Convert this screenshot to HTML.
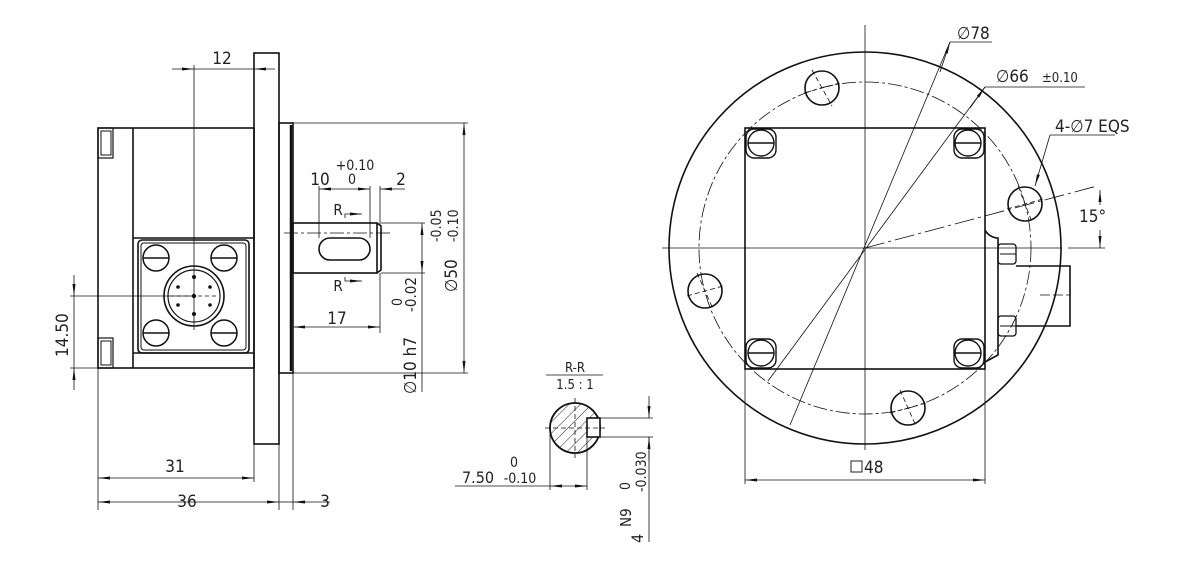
<!DOCTYPE html>
<html><head><meta charset="utf-8"><style>
html,body{margin:0;padding:0;background:#fff;}
svg{display:block;}
text{font-family:"DejaVu Sans Condensed","Liberation Sans Narrow","Liberation Sans",sans-serif;font-stretch:condensed;fill:#222;}
</style></head><body>
<svg width="1190" height="572" viewBox="0 0 1190 572" xmlns="http://www.w3.org/2000/svg">
<defs>
<marker id="a" markerWidth="12" markerHeight="6" refX="12" refY="3" orient="auto-start-reverse" markerUnits="userSpaceOnUse"><path d="M0,1.5 L12,3 L0,4.5 Z" fill="#111"/></marker>
<pattern id="h" width="8" height="8" patternUnits="userSpaceOnUse" patternTransform="rotate(45)"><line x1="0" y1="0" x2="0" y2="8" stroke="#222" stroke-width="1"/></pattern>
</defs>
<g fill="none" stroke="#111" stroke-width="1.6">
<rect x="254" y="53" width="25" height="391"/>
<rect x="98" y="128" width="156" height="240"/>
<line x1="133" y1="128" x2="133" y2="368"/>
<line x1="133" y1="238" x2="254" y2="238"/>
<line x1="133" y1="353" x2="254" y2="353"/>
<rect x="138" y="240" width="111" height="113" rx="4"/>
<rect x="141" y="243" width="105" height="107" rx="3" stroke-width="1"/>
<rect x="98" y="128" width="15" height="30" stroke-width="1.2"/>
<rect x="101" y="131" width="10" height="24" stroke-width="1"/>
<rect x="98" y="338" width="15" height="30" stroke-width="1.2"/>
<rect x="101" y="341" width="10" height="24" stroke-width="1"/>
<circle cx="194" cy="296" r="30"/>
<circle cx="194" cy="296" r="26" stroke-width="1.2"/>
<g stroke-width="1.5">
<circle cx="156" cy="258" r="13"/><line x1="143" y1="258" x2="169" y2="258"/>
<circle cx="224" cy="258" r="13"/><line x1="211" y1="258" x2="237" y2="258"/>
<circle cx="156" cy="333" r="13"/><line x1="143" y1="333" x2="169" y2="333"/>
<circle cx="224" cy="333" r="13"/><line x1="211" y1="333" x2="237" y2="333"/>
</g>
<g fill="#111" stroke="none">
<circle cx="194" cy="277" r="2"/><circle cx="194" cy="314" r="2"/><circle cx="194" cy="296" r="2.2"/>
<circle cx="178" cy="287" r="1.8"/><circle cx="210" cy="287" r="1.8"/><circle cx="178" cy="305" r="1.8"/><circle cx="210" cy="305" r="1.8"/>
</g>
<line x1="170" y1="296" x2="218" y2="296" stroke-width="0.8" stroke-dasharray="4,3"/>
<rect x="279" y="123" width="14" height="250"/>
<line x1="291" y1="125" x2="291" y2="371" stroke-width="2.5"/>
<rect x="293" y="223" width="84" height="50"/>
<path d="M377,223 L381,226 L381,270 L377,273" />
<rect x="319" y="238" width="51" height="22" rx="11"/>
</g>
<g fill="none" stroke="#111" stroke-width="0.8">
<line x1="194" y1="65" x2="194" y2="330"/>
<line x1="284" y1="233" x2="390" y2="233" stroke-dasharray="14,3,3,3"/>
<line x1="172" y1="69" x2="194" y2="69" marker-end="url(#a)"/><line x1="254" y1="69" x2="275" y2="69" marker-start="url(#a)"/><line x1="194" y1="69" x2="254" y2="69"/>
<line x1="319" y1="186" x2="319" y2="238"/><line x1="370" y1="186" x2="370" y2="238"/><line x1="380" y1="186" x2="380" y2="225"/>
<line x1="319" y1="189" x2="370" y2="189" marker-start="url(#a)" marker-end="url(#a)"/>
<line x1="380" y1="189" x2="405" y2="189" marker-start="url(#a)"/>
<polyline points="345,218 345,214 360,214"/><line x1="350" y1="214" x2="362" y2="214" marker-end="url(#a)"/>
<polyline points="345,277 345,281 360,281"/><line x1="350" y1="281" x2="362" y2="281" marker-end="url(#a)"/>
<line x1="380" y1="273" x2="380" y2="333"/>
<line x1="293" y1="327" x2="380" y2="327" marker-start="url(#a)" marker-end="url(#a)"/>
<line x1="381" y1="223" x2="425" y2="223"/><line x1="381" y1="273" x2="425" y2="273"/>
<line x1="422" y1="223" x2="422" y2="273" marker-start="url(#a)" marker-end="url(#a)"/>
<line x1="422" y1="273" x2="422" y2="392"/>
<line x1="293" y1="123" x2="468" y2="123"/><line x1="293" y1="373" x2="468" y2="373"/>
<line x1="464" y1="123" x2="464" y2="373" marker-start="url(#a)" marker-end="url(#a)"/>
<line x1="70" y1="296" x2="194" y2="296"/><line x1="70" y1="368" x2="98" y2="368"/>
<line x1="74" y1="275" x2="74" y2="296" marker-end="url(#a)"/><line x1="74" y1="368" x2="74" y2="390" marker-start="url(#a)"/><line x1="74" y1="296" x2="74" y2="368"/>
<line x1="98" y1="368" x2="98" y2="510"/><line x1="254" y1="444" x2="254" y2="482"/>
<line x1="279" y1="444" x2="279" y2="510"/><line x1="293" y1="373" x2="293" y2="510"/>
<line x1="98" y1="478" x2="254" y2="478" marker-start="url(#a)" marker-end="url(#a)"/>
<line x1="98" y1="502" x2="279" y2="502" marker-start="url(#a)" marker-end="url(#a)"/>
<line x1="279" y1="502" x2="293" y2="502"/>
<line x1="293" y1="502" x2="330" y2="502" marker-start="url(#a)"/>
</g>
<g font-size="17" text-anchor="middle">
<text x="222" y="64">12</text>
<text x="320" y="185">10</text>
<text x="355" y="170" font-size="14">+0.10</text>
<text x="352" y="184" font-size="14">0</text>
<text x="401" y="185">2</text>
<text x="338" y="215" font-size="15">R</text>
<text x="338" y="291" font-size="15">R</text>
<text x="337" y="324">17</text>
<text x="175" y="472">31</text>
<text x="187" y="507">36</text>
<text x="325" y="507">3</text>
</g>
<g font-size="17" text-anchor="start">
<text transform="translate(68,357) rotate(-90)">14.50</text>
<text transform="translate(416,394) rotate(-90)">∅10 h7</text>
<text transform="translate(416,312) rotate(-90)" font-size="15">-0.02</text>
<text transform="translate(402,306) rotate(-90)" font-size="14">0</text>
<text transform="translate(457,292) rotate(-90)">∅50</text>
<text transform="translate(441,242) rotate(-90)" font-size="14">-0.05</text>
<text transform="translate(458,242) rotate(-90)" font-size="14">-0.10</text>
</g>

<g fill="none" stroke="#111">
<circle cx="575" cy="428" r="25" fill="url(#h)" stroke-width="1.8"/>
<rect x="587" y="418" width="13" height="19" fill="#fff" stroke-width="1.6"/>
<g stroke-width="0.8">
<line x1="545" y1="428" x2="605" y2="428" stroke-dasharray="5,3"/>
<line x1="575" y1="398" x2="575" y2="458" stroke-dasharray="5,3"/>
<line x1="546" y1="375" x2="603" y2="375"/>
<line x1="550" y1="428" x2="550" y2="490"/><line x1="587" y1="437" x2="587" y2="490"/>
<line x1="455" y1="486" x2="550" y2="486"/>
<line x1="550" y1="486" x2="587" y2="486" marker-start="url(#a)" marker-end="url(#a)"/>
<line x1="600" y1="418" x2="653" y2="418"/><line x1="600" y1="437" x2="653" y2="437"/>
<line x1="649" y1="396" x2="649" y2="418" marker-end="url(#a)"/>
<line x1="649" y1="437" x2="649" y2="460" marker-start="url(#a)"/>
<line x1="649" y1="437" x2="649" y2="542"/>
</g>
</g>
<g font-size="16" text-anchor="middle">
<text x="575" y="372" font-size="13">R-R</text>
<text x="575" y="389" font-size="13">1.5 : 1</text>
<text x="478" y="483">7.50</text>
<text x="514" y="467" font-size="14">0</text>
<text x="520" y="483" font-size="14">-0.10</text>
</g>
<g font-size="16" text-anchor="start">
<text transform="translate(643,543) rotate(-90)">4</text>
<text transform="translate(631,527) rotate(-90)" font-size="15">N9</text>
<text transform="translate(630,490) rotate(-90)" font-size="14">0</text>
<text transform="translate(646,492) rotate(-90)" font-size="14">-0.030</text>
</g>

<g fill="none" stroke="#111" stroke-width="1.6">
<circle cx="865" cy="248" r="196"/>
<rect x="745" y="128" width="240" height="241"/>
<g stroke-width="1.4">
<rect x="746" y="129" width="30" height="29" rx="8"/><circle cx="761" cy="143" r="13"/><line x1="748" y1="143" x2="774" y2="143"/>
<rect x="954" y="129" width="30" height="29" rx="8"/><circle cx="968" cy="143" r="13"/><line x1="955" y1="143" x2="981" y2="143"/>
<rect x="746" y="339" width="30" height="29" rx="8"/><circle cx="761" cy="353" r="13"/><line x1="748" y1="353" x2="774" y2="353"/>
<rect x="954" y="339" width="30" height="29" rx="8"/><circle cx="968" cy="353" r="13"/><line x1="955" y1="353" x2="981" y2="353"/>
</g>
<circle cx="822" cy="88" r="17"/>
<circle cx="1025" cy="204" r="17"/>
<circle cx="705" cy="291" r="17"/>
<circle cx="908" cy="408" r="17"/>
<path d="M985,230 Q988,236 996,238 L998,238 L998,355 L985,362"/>
<rect x="998" y="244" width="18" height="20" rx="3" stroke-width="1.3"/>
<rect x="998" y="316" width="18" height="20" rx="3" stroke-width="1.3"/>
<line x1="1000" y1="254" x2="1016" y2="254" stroke-width="1"/>
<line x1="1000" y1="326" x2="1016" y2="326" stroke-width="1"/>
<polyline points="1016,266 1070,266 1070,326 1016,326"/>
</g>
<g fill="none" stroke="#111" stroke-width="0.8">
<circle cx="865" cy="248" r="166" stroke-dasharray="14,3,3,3"/>
<line x1="662" y1="248" x2="1062" y2="248"/>
<line x1="865" y1="25" x2="865" y2="450"/>
<line x1="950" y1="42" x2="790" y2="425"/>
<line x1="950" y1="42" x2="992" y2="42"/>
<line x1="950" y1="42" x2="940" y2="72" marker-start="url(#a)"/>
<line x1="985" y1="87" x2="768" y2="381"/>
<line x1="985" y1="87" x2="1085" y2="87"/>
<line x1="985" y1="87" x2="970" y2="108" marker-start="url(#a)"/>
<line x1="1050" y1="135" x2="1115" y2="135"/>
<line x1="1050" y1="135" x2="1035" y2="186" marker-end="url(#a)"/>
<line x1="865" y1="248" x2="1097" y2="186" stroke-dasharray="20,4,3,4"/>
<line x1="1068" y1="248" x2="1105" y2="248"/>
<line x1="1100" y1="190" x2="1100" y2="205" marker-start="url(#a)"/>
<line x1="1100" y1="230" x2="1100" y2="248" marker-end="url(#a)"/>
<line x1="1040" y1="295" x2="1070" y2="295" stroke-dasharray="10,3"/>
<line x1="812" y1="70" x2="832" y2="106" stroke-dasharray="5,3"/><line x1="804" y1="93" x2="840" y2="83" stroke-dasharray="5,3"/>
<line x1="1018" y1="186" x2="1032" y2="222" stroke-dasharray="5,3"/><line x1="1007" y1="209" x2="1043" y2="199" stroke-dasharray="5,3"/>
<line x1="697" y1="273" x2="713" y2="309" stroke-dasharray="5,3"/><line x1="687" y1="296" x2="723" y2="286" stroke-dasharray="5,3"/>
<line x1="900" y1="390" x2="916" y2="426" stroke-dasharray="5,3"/><line x1="890" y1="413" x2="926" y2="403" stroke-dasharray="5,3"/>
<line x1="745" y1="369" x2="745" y2="484"/><line x1="985" y1="369" x2="985" y2="484"/>
<line x1="745" y1="480" x2="985" y2="480" marker-start="url(#a)" marker-end="url(#a)"/>
</g>
<g font-size="17" text-anchor="start">
<text x="957" y="39">∅78</text>
<text x="996" y="82">∅66</text>
<text x="1042" y="82" font-size="13">±0.10</text>
<text x="1055" y="132">4-∅7 EQS</text>
<text x="1079" y="222">15°</text>
<rect x="851" y="461" width="11" height="11" fill="none" stroke="#222" stroke-width="1"/>
<text x="864" y="473">48</text>
</g>
</svg>
</body></html>
